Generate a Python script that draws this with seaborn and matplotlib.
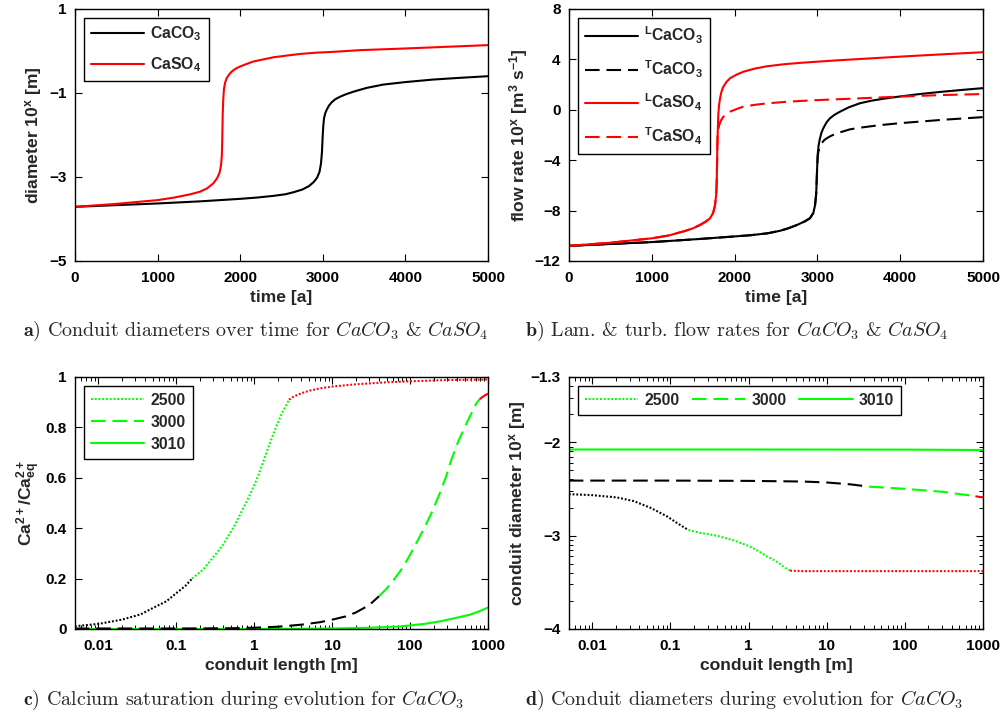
import numpy as np
import matplotlib
matplotlib.use("Agg")
import matplotlib.pyplot as plt
import seaborn as sns

# ---------------- data ----------------
# panel a: conduit diameters (log10 m) over time (a)
t_a_co3 = [0, 500, 1000, 1513, 2000, 2200, 2400, 2550, 2650, 2750, 2830, 2890, 2930, 2960,
           2978, 2990, 2998, 3006, 3015, 3030, 3047, 3075, 3108, 3150, 3208, 3280, 3369,
           3528, 3730, 4000, 4335, 4650, 5000]
d_a_co3 = [-3.71, -3.67, -3.63, -3.58, -3.52, -3.49, -3.45, -3.41, -3.36, -3.30, -3.22, -3.12,
           -3.02, -2.88, -2.68, -2.4, -2.05, -1.78, -1.60, -1.48, -1.40, -1.30, -1.22, -1.15,
           -1.09, -1.03, -0.97, -0.88, -0.80, -0.74, -0.68, -0.64, -0.60]
t_a_so4 = [0, 500, 1000, 1200, 1400, 1513, 1600, 1675, 1720, 1750, 1768, 1778, 1783, 1788,
           1795, 1804, 1818, 1836, 1865, 1897, 1945, 1998, 2075, 2159, 2280, 2401, 2560, 2724,
           2920, 3127, 3450, 4000, 4500, 5000]
d_a_so4 = [-3.71, -3.64, -3.55, -3.49, -3.41, -3.35, -3.27, -3.15, -3.03, -2.9, -2.72, -2.48,
           -2.1, -1.52, -1.15, -0.89, -0.75, -0.65, -0.56, -0.49, -0.42, -0.37, -0.31, -0.25,
           -0.20, -0.15, -0.11, -0.07, -0.04, -0.02, 0.02, 0.06, 0.10, 0.14]

# panel b: laminar / turbulent flow rates (log10 m3/s)
t_b_lco3 = [0, 500, 1000, 1582, 2000, 2200, 2400, 2550, 2650, 2750, 2850, 2911, 2950, 2971,
            2985, 2991, 2997, 3003, 3015, 3031, 3050, 3071, 3110, 3152, 3210, 3273, 3380,
            3514, 3650, 3800, 4000, 4250, 4500, 4750, 5000]
q_b_lco3 = [-10.8, -10.65, -10.5, -10.25, -10.05, -9.95, -9.8, -9.6, -9.4, -9.15, -8.85,
            -8.6, -8.2, -7.6, -6.7, -5.7, -4.6, -3.59, -2.8, -2.26, -1.8, -1.47, -1.0, -0.67,
            -0.38, -0.15, 0.2, 0.52, 0.72, 0.88, 1.06, 1.26, 1.43, 1.58, 1.72]
t_b_tco3 = [0, 500, 1000, 1582, 2000, 2200, 2400, 2550, 2650, 2750, 2850, 2911, 2950, 2971,
            2985, 2991, 2997, 3004, 3011, 3030, 3051, 3080, 3112, 3170, 3233, 3394, 3514,
            3750, 4000, 4500, 5000]
q_b_tco3 = [-10.8, -10.65, -10.5, -10.25, -10.05, -9.95, -9.8, -9.6, -9.4, -9.15, -8.85,
            -8.6, -8.2, -7.6, -6.7, -5.7, -4.6, -3.75, -3.33, -2.95, -2.66, -2.42, -2.26,
            -2.05, -1.87, -1.55, -1.42, -1.22, -1.06, -0.8, -0.58]
t_b_lso4 = [0, 500, 1000, 1200, 1400, 1500, 1582, 1650, 1703, 1740, 1763, 1778, 1784, 1788,
            1791, 1797, 1803, 1812, 1824, 1842, 1864, 1900, 1944, 2020, 2105, 2250, 2388,
            2600, 2800, 3000, 3250, 3514, 4000, 4500, 5000]
q_b_lso4 = [-10.8, -10.55, -10.2, -9.98, -9.62, -9.4, -9.14, -8.88, -8.61, -8.2, -7.6, -6.7,
            -5.7, -4.4, -3.06, -1.6, -0.41, 0.35, 0.91, 1.45, 1.83, 2.2, 2.5, 2.78, 3.02,
            3.28, 3.45, 3.62, 3.73, 3.82, 3.93, 4.03, 4.22, 4.4, 4.57]
t_b_tso4 = [0, 500, 1000, 1200, 1400, 1500, 1582, 1650, 1703, 1740, 1763, 1778, 1784, 1788,
            1791, 1795, 1805, 1815, 1835, 1864, 1900, 1944, 2020, 2105, 2250, 2388, 2600,
            2790, 3000, 3514, 4000, 4500, 5000]
q_b_tso4 = [-10.8, -10.55, -10.2, -9.98, -9.62, -9.4, -9.14, -8.88, -8.61, -8.2, -7.6, -6.7,
            -5.7, -4.4, -3.06, -2.0, -1.5, -1.2, -0.85, -0.55, -0.33, -0.15, 0.05, 0.25, 0.4,
            0.51, 0.62, 0.70, 0.77, 0.91, 1.05, 1.17, 1.25]

# panel c: calcium saturation along conduit (segments: black / green / red)
c2500_black_x = [0.005, 0.01, 0.02, 0.035, 0.05, 0.075, 0.1, 0.13, 0.16]
c2500_black_y = [0.011, 0.02, 0.037, 0.058, 0.083, 0.11, 0.142, 0.17, 0.2]
c2500_green_x = [0.16, 0.22, 0.28, 0.4, 0.55, 0.7, 0.9, 1.1, 1.33, 1.6, 1.9, 2.3, 2.8]
c2500_green_y = [0.2, 0.235, 0.274, 0.335, 0.406, 0.47, 0.538, 0.6, 0.67, 0.74, 0.80, 0.86, 0.91]
c2500_red_x = [2.8, 3.2, 4, 5, 7, 10, 20, 50, 100, 300, 1000]
c2500_red_y = [0.91, 0.922, 0.935, 0.945, 0.955, 0.962, 0.971, 0.979, 0.983, 0.988, 0.99]
c3000_black_x = [0.005, 0.1, 0.5, 1, 2, 4, 7, 10, 15, 20, 30, 40]
c3000_black_y = [0.002, 0.002, 0.003, 0.005, 0.009, 0.017, 0.027, 0.037, 0.05, 0.065, 0.095, 0.13]
c3000_green_x = [40, 50, 60, 75, 92, 120, 155, 195, 240, 290, 337, 410, 500, 600, 707, 780]
c3000_green_y = [0.13, 0.16, 0.19, 0.23, 0.274, 0.34, 0.406, 0.47, 0.538, 0.605, 0.67, 0.74,
                 0.80, 0.85, 0.895, 0.912]
c3000_red_x = [780, 900, 1000]
c3000_red_y = [0.912, 0.926, 0.934]
c3010_x = [0.005, 1, 10, 30, 74, 150, 240, 400, 590, 800, 1000]
c3010_y = [0.0, 0.0, 0.002, 0.005, 0.01, 0.02, 0.03, 0.045, 0.057, 0.072, 0.085]

# panel d: conduit diameter (log10 m) along conduit
d2500_black_x = [0.005, 0.01, 0.0205, 0.034, 0.055, 0.089, 0.13, 0.17]
d2500_black_y = [-2.555, -2.566, -2.59, -2.63, -2.70, -2.79, -2.88, -2.94]
d2500_green_x = [0.17, 0.24, 0.39, 0.64, 1.0, 1.3, 1.7, 2.1, 2.5, 3.0, 3.4]
d2500_green_y = [-2.94, -2.97, -3.0, -3.05, -3.11, -3.16, -3.22, -3.26, -3.30, -3.35, -3.375]
d2500_red_x = [3.4, 5, 10, 100, 1000]
d2500_red_y = [-3.375, -3.38, -3.38, -3.38, -3.38]
d3000_black_x = [0.005, 0.1, 1, 5, 10, 20, 35]
d3000_black_y = [-2.41, -2.41, -2.413, -2.42, -2.43, -2.45, -2.475]
d3000_green_x = [35, 100, 300, 700, 800]
d3000_green_y = [-2.475, -2.498, -2.53, -2.57, -2.578]
d3000_red_x = [800, 1000]
d3000_red_y = [-2.578, -2.59]
d3010_x = [0.005, 1, 100, 300, 1000]
d3010_y = [-2.077, -2.077, -2.078, -2.08, -2.082]

# ticks / labels
xt_time = [0, 1000, 2000, 3000, 4000, 5000]
yt_a = [-5, -3, -1, 1]
yt_b = [-12, -8, -4, 0, 4, 8]
yt_c = [0, 0.2, 0.4, 0.6, 0.8, 1]
yt_c_lab = ["0", "0.2", "0.4", "0.6", "0.8", "1"]
xt_len = [0.01, 0.1, 1, 10, 100, 1000]
xt_len_lab = ["0.01", "0.1", "1", "10", "100", "1000"]
yt_d = [-4, -3, -2, -1.3]
yt_d_lab = ["\u22124", "\u22123", "\u22122", "\u22121.3"]
years = ["2500", "3000", "3010"]
captions = [
    r"$\mathbf{a)}$ Conduit diameters over time for $\mathit{CaCO}_3$ & $\mathit{CaSO}_4$",
    r"$\mathbf{b)}$ Lam. & turb. flow rates for $\mathit{CaCO}_3$ & $\mathit{CaSO}_4$",
    r"$\mathbf{c)}$ Calcium saturation during evolution for $\mathit{CaCO}_3$",
    r"$\mathbf{d)}$ Conduit diameters during evolution for $\mathit{CaCO}_3$",
]

# ---------------- style ----------------
sns.set_theme(style="white")
plt.rcParams["font.family"] = ["Liberation Sans", "DejaVu Sans"]
plt.rcParams.update({
    "font.weight": "bold",
    "axes.labelweight": "bold",
    "font.size": 11,
    "axes.labelsize": 12.6,
    "xtick.labelsize": 11,
    "ytick.labelsize": 11,
    "legend.fontsize": 11.3,
    "mathtext.fontset": "custom",
    "mathtext.rm": "Liberation Sans:bold",
    "mathtext.bf": "Liberation Sans:bold",
    "mathtext.it": "Liberation Sans:bold",
    "mathtext.sf": "Liberation Sans:bold",
    "mathtext.default": "rm",
    "axes.edgecolor": "black",
    "axes.linewidth": 1.0,
    "axes.unicode_minus": True,
})

GREEN = (0, 1, 0)
RED = (1, 0, 0)
BLACK = (0, 0, 0)
LW = 1.5
SOLID = "-"
DASH = (0, (7, 3.3))
DOT = (0, (0.9, 0.9))

fig = plt.figure(figsize=(10.03, 7.18), dpi=100)
W, H = 1003, 718
def axes_px(l, t, r, b):
    return fig.add_axes([l / W, 1 - b / H, (r - l) / W, (b - t) / H])

ax_a = axes_px(75, 9, 488, 261)
ax_b = axes_px(569, 9, 983, 261)
ax_c = axes_px(75, 377, 488, 629)
ax_d = axes_px(569, 377, 983, 629)

def line(ax, x, y, color, ls, label=None, z=2):
    sns.lineplot(x=np.asarray(x, float), y=np.asarray(y, float), ax=ax, color=color,
                 linestyle=ls, lw=LW, label=label, estimator=None, sort=False,
                 legend=False, zorder=z)

def style_ax(ax, ylab_x):
    ax.tick_params(which="both", direction="in", bottom=True, left=True, top=True,
                   right=True, colors="black", labelcolor="black")
    ax.tick_params(which="major", length=5, width=0.8)
    ax.tick_params(axis="x", which="major", pad=7)
    ax.tick_params(axis="y", which="major", pad=6)
    ax.tick_params(which="minor", length=3, width=0.7)
    for s in ax.spines.values():
        s.set_visible(True)
        s.set_color("black")
        s.set_linewidth(1.0)
    ax.yaxis.set_label_coords(ylab_x, 0.5)

def legend(ax, spacing=0.45, **kw):
    leg = ax.legend(loc="upper left", frameon=True, fancybox=False, framealpha=1,
                    edgecolor="black", handlelength=3.4, handletextpad=0.4,
                    borderaxespad=0.55, borderpad=0.45, labelspacing=spacing, **kw)
    leg.get_frame().set_linewidth(1.0)
    return leg

# panel a
line(ax_a, t_a_co3, d_a_co3, BLACK, SOLID, r"CaCO$_3$")
line(ax_a, t_a_so4, d_a_so4, RED, SOLID, r"CaSO$_4$")
ax_a.set_xlim(0, 5000); ax_a.set_ylim(-5, 1)
ax_a.set_xticks(xt_time); ax_a.set_yticks(yt_a)
ax_a.set_xlabel("time [a]"); ax_a.set_ylabel(r"diameter 10$^{x}$ [m]")
style_ax(ax_a, -0.075)
legend(ax_a, spacing=0.75)

# panel b
line(ax_b, t_b_tco3, q_b_tco3, BLACK, DASH, r"$^{T}$CaCO$_3$")
line(ax_b, t_b_lco3, q_b_lco3, BLACK, SOLID, r"$^{L}$CaCO$_3$")
line(ax_b, t_b_tso4, q_b_tso4, RED, DASH, r"$^{T}$CaSO$_4$")
line(ax_b, t_b_lso4, q_b_lso4, RED, SOLID, r"$^{L}$CaSO$_4$")
ax_b.set_xlim(0, 5000); ax_b.set_ylim(-12, 8)
ax_b.set_xticks(xt_time); ax_b.set_yticks(yt_b)
ax_b.set_xlabel("time [a]"); ax_b.set_ylabel(r"flow rate 10$^{x}$ [m$^{3}$ s$^{-1}$]")
style_ax(ax_b, -0.093)
h, l = ax_b.get_legend_handles_labels()
order = [1, 0, 3, 2]
legend(ax_b, spacing=0.78, handles=[h[i] for i in order], labels=[l[i] for i in order])

# panel c
line(ax_c, c3010_x, c3010_y, GREEN, SOLID, years[2])
line(ax_c, c3000_black_x, c3000_black_y, BLACK, DASH)
line(ax_c, c3000_green_x, c3000_green_y, GREEN, DASH, years[1])
line(ax_c, c3000_red_x, c3000_red_y, RED, DASH)
line(ax_c, c2500_black_x, c2500_black_y, BLACK, DOT)
line(ax_c, c2500_green_x, c2500_green_y, GREEN, DOT, years[0])
line(ax_c, c2500_red_x, c2500_red_y, RED, DOT)
ax_c.set_xscale("log")
ax_c.set_xlim(0.00503, 1000); ax_c.set_ylim(0, 1)
ax_c.set_xticks(xt_len, xt_len_lab); ax_c.set_yticks(yt_c, yt_c_lab)
ax_c.set_xlabel("conduit length [m]"); ax_c.set_ylabel(r"Ca$^{2+}$/Ca$^{2+}_{eq}$")
style_ax(ax_c, -0.078)
h, l = ax_c.get_legend_handles_labels()
order = [l.index(y) for y in years]
legend(ax_c, handles=[h[i] for i in order], labels=years)

# panel d
line(ax_d, d3010_x, d3010_y, GREEN, SOLID, years[2])
line(ax_d, d3000_black_x, d3000_black_y, BLACK, DASH)
line(ax_d, d3000_green_x, d3000_green_y, GREEN, DASH, years[1])
line(ax_d, d3000_red_x, d3000_red_y, RED, DASH)
line(ax_d, d2500_black_x, d2500_black_y, BLACK, DOT)
line(ax_d, d2500_green_x, d2500_green_y, GREEN, DOT, years[0])
line(ax_d, d2500_red_x, d2500_red_y, RED, DOT)
ax_d.set_xscale("log")
ax_d.set_xlim(0.00503, 1000); ax_d.set_ylim(-4, -1.3)
ax_d.set_xticks(xt_len, xt_len_lab); ax_d.set_yticks(yt_d, yt_d_lab)
minor_d = [d + np.log10(k) for d in (-4, -3, -2) for k in range(2, 10) if d + np.log10(k) < -1.3]
ax_d.set_yticks(minor_d, minor=True)
ax_d.set_xlabel("conduit length [m]"); ax_d.set_ylabel(r"conduit diameter 10$^{x}$ [m]")
style_ax(ax_d, -0.098)
h, l = ax_d.get_legend_handles_labels()
order = [l.index(y) for y in years]
legend(ax_d, handles=[h[i] for i in order], labels=years, ncol=3, columnspacing=0.8)

# captions
cap_pos = [(23, 331), (525, 331), (23, 700), (525, 700)]
for (x, y), txt in zip(cap_pos, captions):
    fig.text(x / W, 1 - y / H, txt, ha="left", va="center", fontsize=14.4,
             family="cmr10", weight="normal", math_fontfamily="cm")

fig.savefig("out.png", dpi=100)
